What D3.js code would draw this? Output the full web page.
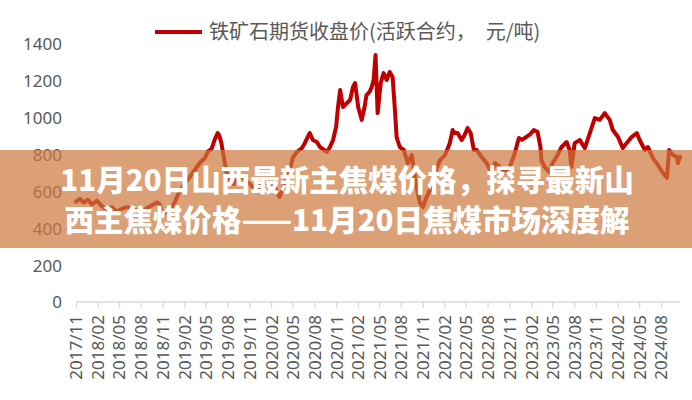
<!DOCTYPE html>
<html>
<head>
<meta charset="utf-8">
<script src="https://cdn.jsdelivr.net/npm/d3@7/dist/d3.min.js"></script>
<style>
html,body{margin:0;padding:0;background:#fff;}
svg{display:block;}
</style>
</head>
<body>
<svg id="chart" width="692" height="400"></svg>
<script>
// ---- data ----
const seriesName = "铁矿石期货收盘价(活跃合约，　元/吨)";
const titleLines = ["11月20日山西最新主焦煤价格，探寻最新山", "西主焦煤价格——11月20日焦煤市场深度解"];
const yTicks = [0, 200, 400, 600, 800, 1000, 1200, 1400];
const xTickLabels = ["2017/11","2018/02","2018/05","2018/08","2018/11","2019/02","2019/05","2019/08","2019/11","2020/02","2020/05","2020/08","2020/11","2021/02","2021/05","2021/08","2021/11","2022/02","2022/05","2022/08","2022/11","2023/02","2023/05","2023/08","2023/11","2024/02","2024/05","2024/08"];
const dates = ["2017-11-01","2017-11-17","2017-12-04","2017-12-21","2018-01-07","2018-01-28","2018-02-18","2018-03-10","2018-03-31","2018-04-21","2018-05-12","2018-06-03","2018-06-24","2018-07-15","2018-08-05","2018-08-27","2018-09-17","2018-10-08","2018-10-20","2018-11-02","2018-11-19","2018-12-05","2018-12-22","2019-01-04","2019-01-17","2019-02-03","2019-02-19","2019-03-07","2019-03-24","2019-04-10","2019-04-27","2019-05-13","2019-05-26","2019-06-08","2019-06-21","2019-06-29","2019-07-07","2019-07-16","2019-07-29","2019-08-11","2019-08-28","2019-09-14","2019-09-30","2019-10-17","2019-11-03","2019-11-20","2019-12-07","2019-12-24","2020-01-10","2020-01-27","2020-02-13","2020-02-29","2020-03-08","2020-03-29","2020-04-20","2020-05-02","2020-05-19","2020-06-10","2020-06-22","2020-07-04","2020-07-13","2020-07-26","2020-08-12","2020-08-25","2020-09-11","2020-09-23","2020-10-06","2020-10-19","2020-11-01","2020-11-09","2020-11-18","2020-11-30","2020-12-17","2020-12-30","2021-01-11","2021-01-20","2021-02-02","2021-02-17","2021-03-01","2021-03-09","2021-03-22","2021-03-31","2021-04-08","2021-04-16","2021-04-25","2021-05-08","2021-05-20","2021-06-02","2021-06-15","2021-06-27","2021-07-06","2021-07-14","2021-07-27","2021-08-13","2021-08-30","2021-09-16","2021-10-03","2021-10-20","2021-11-02","2021-11-14","2021-12-01","2021-12-22","2022-01-13","2022-02-03","2022-02-23","2022-03-07","2022-03-15","2022-03-28","2022-04-14","2022-04-26","2022-05-09","2022-05-22","2022-06-04","2022-06-16","2022-07-07","2022-07-28","2022-08-19","2022-09-01","2022-09-22","2022-10-13","2022-11-03","2022-11-24","2022-12-11","2022-12-24","2023-01-10","2023-01-27","2023-02-12","2023-02-28","2023-03-12","2023-03-16","2023-03-29","2023-04-19","2023-05-02","2023-05-19","2023-06-09","2023-06-30","2023-07-13","2023-07-21","2023-08-03","2023-08-25","2023-09-15","2023-10-06","2023-10-27","2023-11-17","2023-12-08","2023-12-29","2024-01-11","2024-02-02","2024-02-22","2024-03-09","2024-03-30","2024-04-21","2024-05-03","2024-05-25","2024-06-07","2024-06-28","2024-07-19","2024-08-09","2024-08-26","2024-09-04","2024-09-21","2024-10-07","2024-10-11","2024-10-20"];
const prices = [545,560,540,555,530,550,520,505,515,490,505,515,510,495,490,510,525,540,530,475,490,505,540,580,610,645,670,700,730,760,780,820,830,880,917,900,860,790,700,650,640,670,680,660,640,620,610,640,650,660,630,590,570,645,716,781,814,835,862,895,917,879,868,841,825,814,841,879,950,1058,1150,1058,1080,1096,1167,1188,1058,988,1058,1123,1140,1167,1205,1340,1025,1188,1242,1205,1248,1221,1058,895,841,825,754,797,645,537,515,560,608,700,770,797,862,933,917,917,879,905,944,917,825,825,787,754,700,754,733,700,733,808,890,880,895,910,933,922,841,770,733,705,754,787,841,868,825,733,862,879,835,917,998,988,1025,988,933,895,835,862,895,917,879,825,841,781,743,700,673,825,797,787,754,787];
const xDomain = ["2017-11-01", "2024-10-20"];

// ---- chart ----
const svg = d3.select("#chart");
const parse = d3.timeParse("%Y-%m-%d");
const parseTick = d3.timeParse("%Y/%m");
const data = dates.map((d, i) => ({date: parse(d), value: prices[i]}));

const x = d3.scaleTime().domain(xDomain.map(parse)).range([76, 680]);
const y = d3.scaleLinear().domain([0, 1400]).range([302, 44]);

const gray = "#595959";
const numFont = "'Noto Sans', 'Noto Sans CJK SC', sans-serif";
const cjkFont = "'Noto Sans CJK SC', 'Noto Sans', sans-serif";

// y axis (labels only)
const yAxis = d3.axisLeft(y).tickValues(yTicks).tickSize(0).tickPadding(0).tickFormat(d3.format("d"));
const gy = svg.append("g").attr("transform", "translate(62,0)").call(yAxis);
gy.select(".domain").remove();
gy.selectAll("text").attr("fill", gray).attr("font-size", 17).attr("font-family", numFont).attr("dy", "0.35em");

// x axis
const tickDates = xTickLabels.map(parseTick);
const xAxis = d3.axisBottom(x).tickValues(tickDates).tickSize(6).tickFormat(d3.timeFormat("%Y/%m"));
const gx = svg.append("g").attr("transform", "translate(0,302)").call(xAxis);
gx.select(".domain").attr("stroke", "#d9d9d9").attr("stroke-width", 1.5).attr("d", "M76,0H680");
gx.selectAll(".tick line").attr("stroke", "#d9d9d9").attr("stroke-width", 1.3);
gx.selectAll(".tick text")
  .attr("fill", gray).attr("font-size", 17).attr("font-family", numFont)
  .attr("text-anchor", "end").attr("transform", "rotate(-90)")
  .attr("x", -13).attr("y", 0).attr("dy", "0.35em");

// line
const line = d3.line().x(d => x(d.date)).y(d => y(d.value));
svg.append("path").datum(data)
  .attr("d", line).attr("fill", "none")
  .attr("stroke", "#c00000").attr("stroke-width", 4)
  .attr("stroke-linejoin", "round").attr("stroke-linecap", "round");

// legend
svg.append("line").attr("x1", 155).attr("x2", 202).attr("y1", 32).attr("y2", 32)
  .attr("stroke", "#c00000").attr("stroke-width", 4);
svg.append("text").attr("x", 209).attr("y", 32).attr("dy", "0.35em")
  .attr("fill", gray).attr("font-size", 20).attr("font-family", cjkFont)
  .text(seriesName);

// overlay band with title
svg.append("rect").attr("x", 0).attr("y", 150).attr("width", 692).attr("height", 98)
  .attr("fill", "rgb(205,120,60)").attr("fill-opacity", 0.7);
svg.selectAll("text.title").data(titleLines).join("text")
  .attr("class", "title")
  .attr("x", 347).attr("y", (d, i) => 181 + i * 40).attr("dy", "0.35em")
  .attr("text-anchor", "middle").attr("fill", "#fff")
  .attr("font-size", 29.5).attr("font-weight", 900).attr("font-family", cjkFont)
  .text(d => d);
</script>
</body>
</html>
